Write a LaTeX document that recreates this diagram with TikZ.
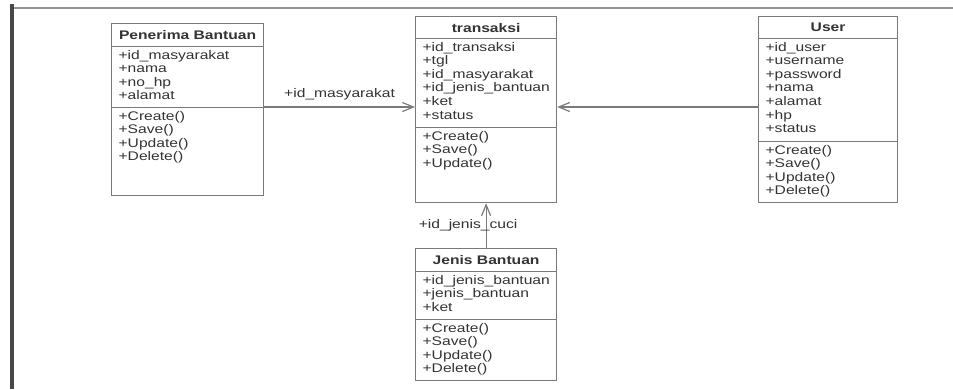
\documentclass[tikz,border=0pt]{standalone}
\usepackage{fontspec}
\usetikzlibrary{positioning,arrows.meta}
\newfontfamily\umlfont[FakeStretch=1.25]{Liberation Sans}
\newcommand{\umlsize}{\fontsize{12.5pt}{13.6pt}\selectfont}
\newcommand{\members}[3]{\parbox[t][#2][t]{#1}{\raggedright #3}}
\definecolor{ink}{HTML}{333333}
\definecolor{edge}{HTML}{7A7A7A}
\begin{document}
\begin{tikzpicture}[x=1pt,y=-1pt]
\tikzstyle{every node}=[font=\umlfont\umlsize, text=ink];
\tikzstyle{classhead}=[draw=edge, line width=1.2pt, fill=white, inner sep=0pt, anchor=north west, font=\umlfont\umlsize\bfseries];
\tikzstyle{classbody}=[draw=edge, line width=1.2pt, fill=white, inner xsep=7pt, inner ysep=3.5pt, anchor=north west];
\tikzstyle{assoc}=[draw=edge, line width=1.2pt, -{Straight Barb[length=11pt,width=9pt]}];
\useasboundingbox (0,0) rectangle (953,389);
\fill[white] (0,0) rectangle (953,389);
\draw[line width=3.5pt, color=ink!90] (12,4) -- (12,389);
\draw[line width=1.4pt, color=edge!80] (14,8) -- (953,8);

\path (111,23) node[classhead, minimum width=152pt, minimum height=23pt] (pb) {Penerima Bantuan};
\path (111,46) node[classbody] (pb-attr) {\members{138pt}{54pt}{+id\_masyarakat\\+nama\\+no\_hp\\+alamat}};
\path (111,107) node[classbody] (pb-ops) {\members{138pt}{81pt}{+Create()\\+Save()\\+Update()\\+Delete()}};

\path (415,16) node[classhead, minimum width=141pt, minimum height=22pt] (tr) {transaksi};
\path (415,38) node[classbody] (tr-attr) {\members{127pt}{82pt}{+id\_transaksi\\+tgl\\+id\_masyarakat\\+id\_jenis\_bantuan\\+ket\\+status}};
\path (415,127) node[classbody] (tr-ops) {\members{127pt}{68pt}{+Create()\\+Save()\\+Update()}};

\path (758,16) node[classhead, minimum width=139pt, minimum height=22pt] (us) {User};
\path (758,38) node[classbody] (us-attr) {\members{125pt}{96pt}{+id\_user\\+username\\+password\\+nama\\+alamat\\+hp\\+status}};
\path (758,141) node[classbody] (us-ops) {\members{125pt}{54pt}{+Create()\\+Save()\\+Update()\\+Delete()}};

\path (415,248) node[classhead, minimum width=141pt, minimum height=23pt] (jb) {Jenis Bantuan};
\path (415,271) node[classbody] (jb-attr) {\members{127pt}{41pt}{+id\_jenis\_bantuan\\+jenis\_bantuan\\+ket}};
\path (415,319) node[classbody] (jb-ops) {\members{127pt}{54pt}{+Create()\\+Save()\\+Update()\\+Delete()}};

\draw[assoc] (pb-ops.north east) -- node[above=3pt] (lbl-mas) {+id\_masyarakat} (tr-attr.west |- pb-ops.north east);
\draw[assoc] (us-attr.west |- pb-ops.north east) -- (tr-attr.east |- pb-ops.north east);
\draw[assoc] (jb.north) -- node[midway, xshift=-18pt] (lbl-jns) {+id\_jenis\_cuci} (tr-ops.south);
\end{tikzpicture}
\end{document}
